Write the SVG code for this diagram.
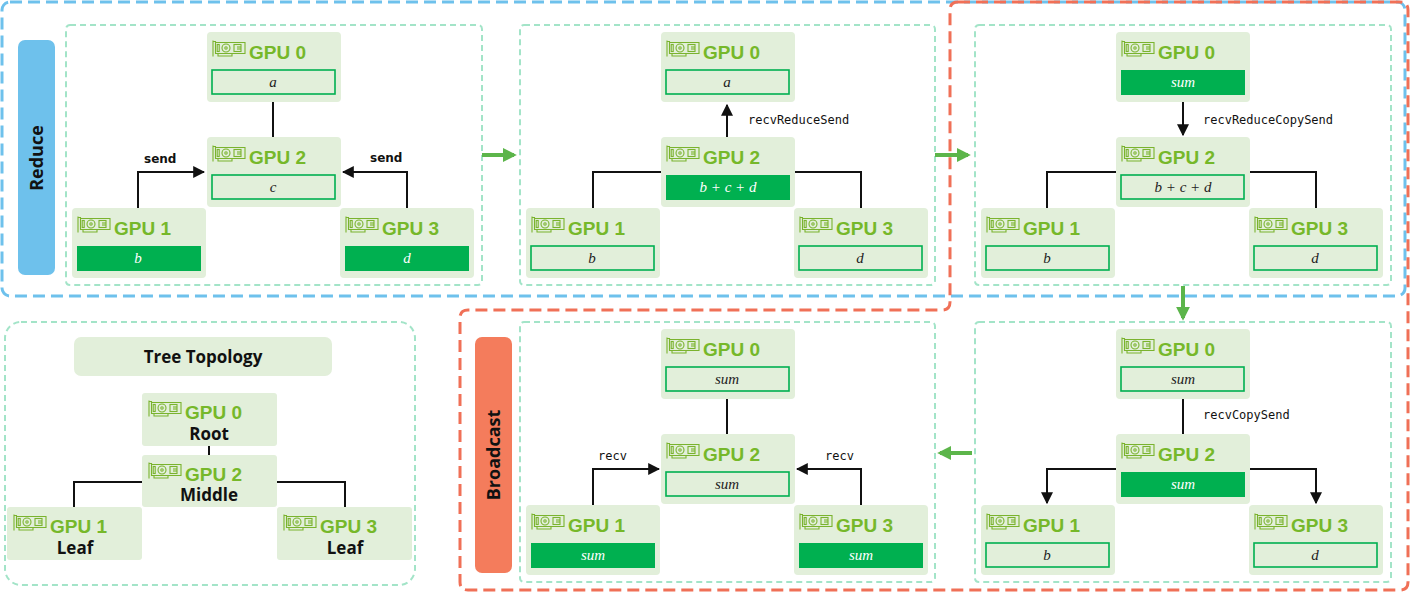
<svg xmlns="http://www.w3.org/2000/svg" xmlns:xlink="http://www.w3.org/1999/xlink" width="1412" height="597" viewBox="0 0 1412 597">
<style>
.nb{fill:#e2efda}
.ib{fill:#e2efda;stroke:#00b050;stroke-width:1.6}
.if{fill:#00b050}
.gl{font-family:"Liberation Sans",Arial,sans-serif;font-weight:bold;font-size:19px;fill:#76b82a}
.m{font-family:"Liberation Serif","Times New Roman",serif;font-style:italic;font-size:15px;text-anchor:middle;fill:#222}
.mw{fill:#fff}
.pan{fill:none;stroke:#a3e4c8;stroke-width:2;stroke-dasharray:6 4}
.ln{fill:none;stroke:#111;stroke-width:2}
.op{font-family:"DejaVu Sans Mono",monospace;font-size:12px;fill:#111}
.sd{font-family:"DejaVu Sans",sans-serif;font-weight:bold;font-size:12px;fill:#111}
.ga{fill:none;stroke:#5cb54a;stroke-width:4}
.tl{font-family:"Open Sans","DejaVu Sans",sans-serif;font-weight:bold;font-size:17px;fill:#111;text-anchor:middle}
</style>
<defs>
<symbol id="gpu" viewBox="0 0 34 17">
<g fill="none" stroke="#7ab32e" stroke-width="1.1">
<path d="M1 0.5V16.5M1 1.5H3.5V13.5H33V2.5H3.5M6 13.5V16H20V13.5"/>
<circle cx="14" cy="8" r="4"/>
<circle cx="14" cy="8" r="1.2"/>
<rect x="5.2" y="4.5" width="2" height="7"/>
<rect x="22" y="4.5" width="7" height="7"/>
<path d="M26 6V10M28 6V10"/>
</g>
</symbol>
<marker id="ah" viewBox="0 0 10 10" refX="9" refY="5" markerWidth="6" markerHeight="6" orient="auto"><path d="M0 0L10 5L0 10z" fill="#111"/></marker>
<marker id="gah" viewBox="0 0 10 10" refX="8" refY="5" markerWidth="3.5" markerHeight="3.5" orient="auto"><path d="M0 0L10 5L0 10z" fill="#5cb54a"/></marker>
</defs>

<!-- big outlines -->
<rect x="2" y="2" width="1403" height="294" rx="8" fill="none" stroke="#6ec1ec" stroke-width="3" stroke-dasharray="12 6"/>
<path d="M958 2H1400Q1408 2 1408 10V582Q1408 590 1400 590H468Q460 590 460 582V318Q460 310 468 310H942Q950 310 950 302V10Q950 2 958 2Z" fill="none" stroke="#f07057" stroke-width="3" stroke-dasharray="12 6"/>

<g id="label-reduce"><rect x="18" y="40" width="37" height="235" rx="7" fill="#6ec1ec"/><text transform="translate(43,158) rotate(-90)" class="tl" style="font-size:18px">Reduce</text></g>
<g id="label-broadcast"><rect x="475" y="337" width="37" height="236" rx="7" fill="#f47c5c"/><text transform="translate(500,455) rotate(-90)" class="tl" style="font-size:18px">Broadcast</text></g>

<!-- panels -->
<rect class="pan" x="66" y="25" width="416" height="260" rx="4"/>
<rect class="pan" x="520" y="25" width="415" height="260" rx="4"/>
<rect class="pan" x="975" y="25" width="416" height="260" rx="4"/>
<rect class="pan" x="520" y="322" width="415" height="260" rx="4"/>
<rect class="pan" x="975" y="322" width="416" height="260" rx="4"/>
<rect class="pan" x="5" y="322" width="410" height="263" rx="16"/>

<g id="connectors">
<path class="ln" d="M273 102V137"/>
<path class="ln" d="M138 208V172H204" marker-end="url(#ah)"/>
<path class="ln" d="M407 208V172H343" marker-end="url(#ah)"/>
<text class="sd" x="144" y="163">send</text>
<text class="sd" x="370" y="162">send</text>

<path class="ln" d="M727 137V105" marker-end="url(#ah)"/>
<path class="ln" d="M661 172H593V208M795 172H861V208"/>
<text class="op" x="748" y="124">recvReduceSend</text>

<path class="ln" d="M1183 102V135" marker-end="url(#ah)"/>
<path class="ln" d="M1116 172H1047V208M1250 172H1316V208"/>
<text class="op" x="1203" y="124">recvReduceCopySend</text>

<path class="ln" d="M1183 399V434"/>
<path class="ln" d="M1116 469H1047V503" marker-end="url(#ah)"/>
<path class="ln" d="M1250 469H1316V503" marker-end="url(#ah)"/>
<text class="op" x="1203" y="419">recvCopySend</text>

<path class="ln" d="M727 399V434"/>
<path class="ln" d="M593 505V469H659" marker-end="url(#ah)"/>
<path class="ln" d="M861 505V469H797" marker-end="url(#ah)"/>
<text class="op" x="598" y="460">recv</text>
<text class="op" x="825" y="460">recv</text>

<path class="ln" d="M209 446V455"/>
<path class="ln" d="M142 482H74V507M277 482H345V507"/>

<path class="ga" d="M482 155H514" marker-end="url(#gah)"/>
<path class="ga" d="M935 155H968" marker-end="url(#gah)"/>
<path class="ga" d="M1183 286V318" marker-end="url(#gah)"/>
<path class="ga" d="M972 453H940" marker-end="url(#gah)"/>
</g>

<!-- Panel 1 -->
<g id="p1-gpu0"><rect class="nb" x="207" y="32" width="134" height="70" rx="4"/><use href="#gpu" x="212" y="40" width="34" height="17"/><text class="gl" x="249" y="59">GPU 0</text><rect class="ib" x="212" y="70" width="123" height="24"/><text class="m" x="273" y="87">a</text></g>
<g id="p1-gpu2"><rect class="nb" x="207" y="137" width="134" height="70" rx="4"/><use href="#gpu" x="212" y="145" width="34" height="17"/><text class="gl" x="249" y="164">GPU 2</text><rect class="ib" x="212" y="175" width="123" height="24"/><text class="m" x="273" y="192">c</text></g>
<g id="p1-gpu1"><rect class="nb" x="72" y="208" width="134" height="70" rx="4"/><use href="#gpu" x="77" y="216" width="34" height="17"/><text class="gl" x="114" y="235">GPU 1</text><rect class="if" x="77" y="246" width="124" height="25"/><text class="m mw" x="138" y="263">b</text></g>
<g id="p1-gpu3"><rect class="nb" x="340" y="208" width="134" height="70" rx="4"/><use href="#gpu" x="345" y="216" width="34" height="17"/><text class="gl" x="382" y="235">GPU 3</text><rect class="if" x="345" y="246" width="124" height="25"/><text class="m mw" x="407" y="263">d</text></g>

<!-- Panel 2 -->
<g id="p2-gpu0"><rect class="nb" x="661" y="32" width="134" height="70" rx="4"/><use href="#gpu" x="666" y="40" width="34" height="17"/><text class="gl" x="703" y="59">GPU 0</text><rect class="ib" x="666" y="70" width="123" height="24"/><text class="m" x="727" y="87">a</text></g>
<g id="p2-gpu2"><rect class="nb" x="661" y="137" width="134" height="70" rx="4"/><use href="#gpu" x="666" y="145" width="34" height="17"/><text class="gl" x="703" y="164">GPU 2</text><rect class="if" x="666" y="175" width="124" height="25"/><text class="m mw" x="728" y="192">b + c + d</text></g>
<g id="p2-gpu1"><rect class="nb" x="526" y="208" width="134" height="70" rx="4"/><use href="#gpu" x="531" y="216" width="34" height="17"/><text class="gl" x="568" y="235">GPU 1</text><rect class="ib" x="531" y="246" width="123" height="24"/><text class="m" x="592" y="263">b</text></g>
<g id="p2-gpu3"><rect class="nb" x="794" y="208" width="134" height="70" rx="4"/><use href="#gpu" x="799" y="216" width="34" height="17"/><text class="gl" x="836" y="235">GPU 3</text><rect class="ib" x="799" y="246" width="123" height="24"/><text class="m" x="860" y="263">d</text></g>

<!-- Panel 3 -->
<g id="p3-gpu0"><rect class="nb" x="1116" y="32" width="134" height="70" rx="4"/><use href="#gpu" x="1121" y="40" width="34" height="17"/><text class="gl" x="1158" y="59">GPU 0</text><rect class="if" x="1121" y="70" width="124" height="25"/><text class="m mw" x="1183" y="87">sum</text></g>
<g id="p3-gpu2"><rect class="nb" x="1116" y="137" width="134" height="70" rx="4"/><use href="#gpu" x="1121" y="145" width="34" height="17"/><text class="gl" x="1158" y="164">GPU 2</text><rect class="ib" x="1121" y="175" width="123" height="24"/><text class="m" x="1183" y="192">b + c + d</text></g>
<g id="p3-gpu1"><rect class="nb" x="981" y="208" width="134" height="70" rx="4"/><use href="#gpu" x="986" y="216" width="34" height="17"/><text class="gl" x="1023" y="235">GPU 1</text><rect class="ib" x="986" y="246" width="123" height="24"/><text class="m" x="1047" y="263">b</text></g>
<g id="p3-gpu3"><rect class="nb" x="1249" y="208" width="134" height="70" rx="4"/><use href="#gpu" x="1254" y="216" width="34" height="17"/><text class="gl" x="1291" y="235">GPU 3</text><rect class="ib" x="1254" y="246" width="123" height="24"/><text class="m" x="1315" y="263">d</text></g>

<!-- Panel 5 (bottom right) -->
<g id="p5-gpu0"><rect class="nb" x="1116" y="329" width="134" height="70" rx="4"/><use href="#gpu" x="1121" y="337" width="34" height="17"/><text class="gl" x="1158" y="356">GPU 0</text><rect class="ib" x="1121" y="367" width="123" height="24"/><text class="m" x="1183" y="384">sum</text></g>
<g id="p5-gpu2"><rect class="nb" x="1116" y="434" width="134" height="70" rx="4"/><use href="#gpu" x="1121" y="442" width="34" height="17"/><text class="gl" x="1158" y="461">GPU 2</text><rect class="if" x="1121" y="472" width="124" height="25"/><text class="m mw" x="1183" y="489">sum</text></g>
<g id="p5-gpu1"><rect class="nb" x="981" y="505" width="134" height="70" rx="4"/><use href="#gpu" x="986" y="513" width="34" height="17"/><text class="gl" x="1023" y="532">GPU 1</text><rect class="ib" x="986" y="543" width="123" height="24"/><text class="m" x="1047" y="560">b</text></g>
<g id="p5-gpu3"><rect class="nb" x="1249" y="505" width="134" height="70" rx="4"/><use href="#gpu" x="1254" y="513" width="34" height="17"/><text class="gl" x="1291" y="532">GPU 3</text><rect class="ib" x="1254" y="543" width="123" height="24"/><text class="m" x="1315" y="560">d</text></g>

<!-- Panel 4 (bottom middle) -->
<g id="p4-gpu0"><rect class="nb" x="661" y="329" width="134" height="70" rx="4"/><use href="#gpu" x="666" y="337" width="34" height="17"/><text class="gl" x="703" y="356">GPU 0</text><rect class="ib" x="666" y="367" width="123" height="24"/><text class="m" x="727" y="384">sum</text></g>
<g id="p4-gpu2"><rect class="nb" x="661" y="434" width="134" height="70" rx="4"/><use href="#gpu" x="666" y="442" width="34" height="17"/><text class="gl" x="703" y="461">GPU 2</text><rect class="ib" x="666" y="472" width="123" height="24"/><text class="m" x="727" y="489">sum</text></g>
<g id="p4-gpu1"><rect class="nb" x="526" y="505" width="134" height="70" rx="4"/><use href="#gpu" x="531" y="513" width="34" height="17"/><text class="gl" x="568" y="532">GPU 1</text><rect class="if" x="531" y="543" width="124" height="25"/><text class="m mw" x="593" y="560">sum</text></g>
<g id="p4-gpu3"><rect class="nb" x="794" y="505" width="134" height="70" rx="4"/><use href="#gpu" x="799" y="513" width="34" height="17"/><text class="gl" x="836" y="532">GPU 3</text><rect class="if" x="799" y="543" width="124" height="25"/><text class="m mw" x="861" y="560">sum</text></g>

<!-- Tree topology -->
<g id="tree-title"><rect class="nb" x="74" y="337" width="258" height="39" rx="7"/><text class="tl" x="203" y="363">Tree Topology</text></g>
<g id="tree-gpu0"><rect class="nb" x="142" y="393" width="135" height="53" rx="3"/><use href="#gpu" x="148" y="400" width="34" height="17"/><text class="gl" x="185" y="419">GPU 0</text><text class="tl" x="209" y="440">Root</text></g>
<g id="tree-gpu2"><rect class="nb" x="142" y="455" width="135" height="52" rx="3"/><use href="#gpu" x="148" y="462" width="34" height="17"/><text class="gl" x="185" y="481">GPU 2</text><text class="tl" x="209" y="501">Middle</text></g>
<g id="tree-gpu1"><rect class="nb" x="7" y="507" width="135" height="53" rx="3"/><use href="#gpu" x="13" y="514" width="34" height="17"/><text class="gl" x="50" y="533">GPU 1</text><text class="tl" x="75" y="554">Leaf</text></g>
<g id="tree-gpu3"><rect class="nb" x="277" y="507" width="135" height="53" rx="3"/><use href="#gpu" x="283" y="514" width="34" height="17"/><text class="gl" x="320" y="533">GPU 3</text><text class="tl" x="345" y="554">Leaf</text></g>
</svg>
